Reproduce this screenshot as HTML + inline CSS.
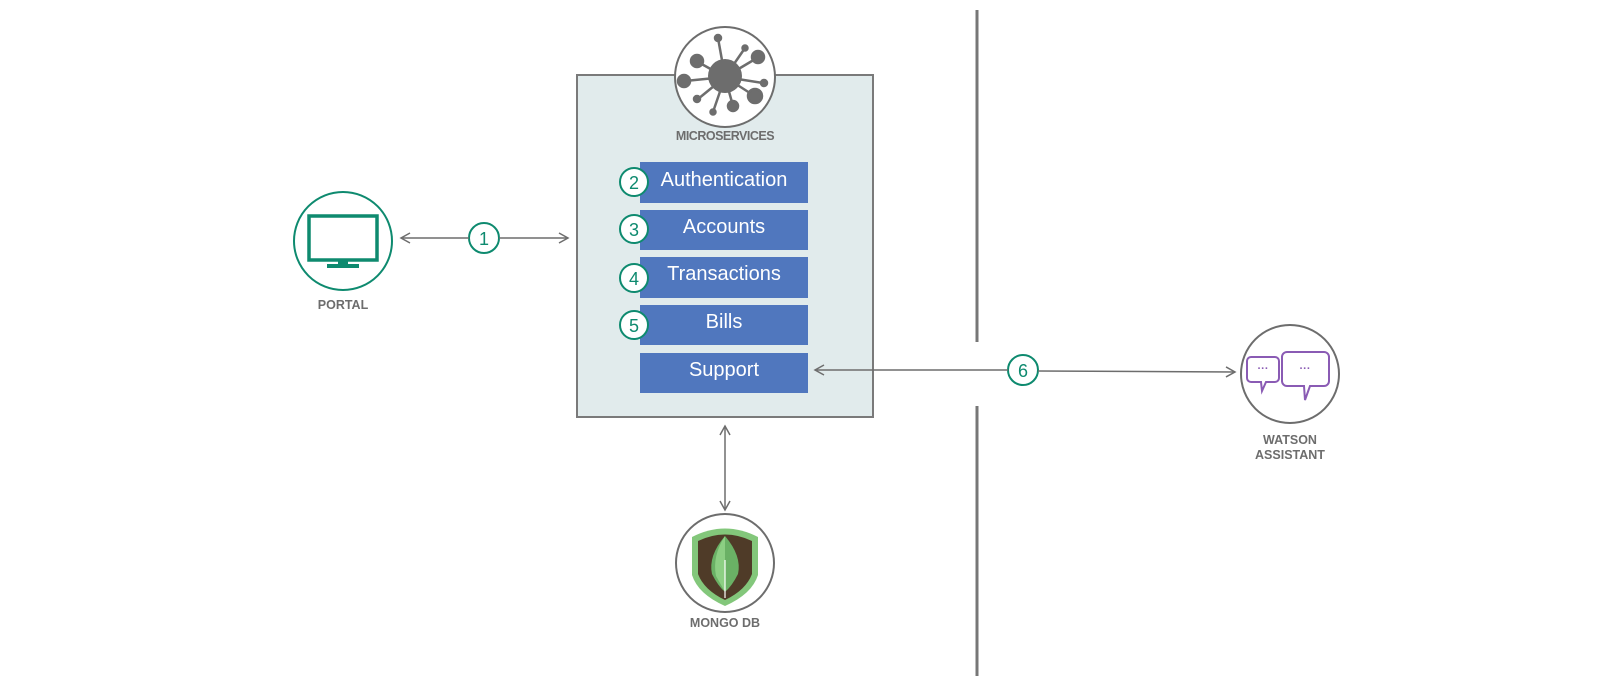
<!DOCTYPE html>
<html><head><style>
html,body{margin:0;padding:0;background:#fff;overflow:hidden;width:1601px;height:697px;}
svg{display:block;}
text{font-family:"Liberation Sans",sans-serif;}
</style></head><body>
<svg width="1601" height="697" viewBox="0 0 1601 697" xmlns="http://www.w3.org/2000/svg">
<defs>
<marker id="ah" markerWidth="12" markerHeight="12" refX="10" refY="6" orient="auto-start-reverse" markerUnits="userSpaceOnUse">
<path d="M1,1 L10,6 L1,11" fill="none" stroke="#6d6d6d" stroke-width="1.5"/>
</marker>
</defs>
<rect x="577" y="75" width="296" height="342" fill="#e1ebec" stroke="#7a7a7a" stroke-width="2"/>
<circle cx="725" cy="77" r="50" fill="#fff" stroke="#6d6d6d" stroke-width="2"/>
<g stroke="#6d6d6d" stroke-width="2.5" fill="#6d6d6d">
<line x1="725" y1="77" x2="718" y2="38"/><circle cx="718" cy="38" r="3"/>
<line x1="725" y1="77" x2="745" y2="48"/><circle cx="745" cy="48" r="2.5"/>
<line x1="725" y1="77" x2="757" y2="58"/><circle cx="758" cy="57" r="6"/>
<line x1="725" y1="77" x2="698" y2="62"/><circle cx="697" cy="61" r="6"/>
<line x1="725" y1="77" x2="685" y2="81"/><circle cx="684" cy="81" r="6"/>
<line x1="725" y1="77" x2="763" y2="83"/><circle cx="764" cy="83" r="3"/>
<line x1="725" y1="77" x2="753" y2="95"/><circle cx="755" cy="96" r="7"/>
<line x1="725" y1="77" x2="713" y2="112"/><circle cx="713" cy="112" r="2.5"/>
<line x1="725" y1="77" x2="698" y2="99"/><circle cx="697" cy="99" r="3"/>
<line x1="725" y1="77" x2="733" y2="106"/><circle cx="733" cy="106" r="5"/>
</g>
<circle cx="725" cy="76" r="17" fill="#6d6d6d"/>
<text x="725" y="140" font-size="12.5" font-weight="bold" fill="#6d6d6d" text-anchor="middle" letter-spacing="-0.5">MICROSERVICES</text>
<g fill="#5077be">
<rect x="640" y="162" width="168" height="41"/>
<rect x="640" y="210" width="168" height="40"/>
<rect x="640" y="257" width="168" height="41"/>
<rect x="640" y="305" width="168" height="40"/>
<rect x="640" y="353" width="168" height="40"/>
</g>
<g fill="#fff" font-size="20" text-anchor="middle">
<text x="724" y="186">Authentication</text>
<text x="724" y="233">Accounts</text>
<text x="724" y="280">Transactions</text>
<text x="724" y="328">Bills</text>
<text x="724" y="376">Support</text>
</g>
<g fill="#fff" stroke="#0e8a6f" stroke-width="2">
<circle cx="634" cy="182" r="14"/><circle cx="634" cy="229" r="14"/>
<circle cx="634" cy="278" r="14"/><circle cx="634" cy="325" r="14"/>
<circle cx="484" cy="238" r="15"/><circle cx="1023" cy="370" r="15"/>
</g>
<g fill="#0e8a6f" font-size="18" text-anchor="middle">
<text x="634" y="189">2</text><text x="634" y="236">3</text>
<text x="634" y="285">4</text><text x="634" y="332">5</text>
<text x="484" y="245">1</text><text x="1023" y="377">6</text>
</g>
<g stroke="#6d6d6d" stroke-width="1.5" fill="none">
<line x1="401" y1="238" x2="469" y2="238" marker-start="url(#ah)"/>
<line x1="499" y1="238" x2="568" y2="238" marker-end="url(#ah)"/>
<line x1="815" y1="370" x2="1008" y2="370" marker-start="url(#ah)"/>
<line x1="1038" y1="371" x2="1235" y2="372" marker-end="url(#ah)"/>
<line x1="725" y1="426" x2="725" y2="510" marker-start="url(#ah)" marker-end="url(#ah)"/>
</g>
<line x1="977" y1="10" x2="977" y2="342" stroke="#777" stroke-width="3"/>
<line x1="977" y1="406" x2="977" y2="676" stroke="#777" stroke-width="3"/>
<circle cx="343" cy="241" r="49" fill="#fff" stroke="#0e8a6f" stroke-width="2"/>
<rect x="309" y="216" width="68" height="44" fill="none" stroke="#0e8a6f" stroke-width="3.5"/>
<rect x="338" y="260" width="10" height="5" fill="#0e8a6f"/>
<rect x="327" y="264" width="32" height="4" fill="#0e8a6f"/>
<text x="343" y="309" font-size="12.5" font-weight="bold" fill="#6d6d6d" text-anchor="middle">PORTAL</text>
<circle cx="725" cy="563" r="49" fill="#fff" stroke="#6d6d6d" stroke-width="2"/>
<path d="M692,537 Q725,520 758,537 L758,575 Q752,594 725,606 Q698,594 692,575 Z" fill="#83c77b"/>
<path d="M698,541 Q725,528 752,541 L752,574 Q746,590 725,600 Q704,590 698,574 Z" fill="#4f3b28"/>
<path d="M725,536 Q742,556 738,574 Q732,586 725,592 Q718,586 712,574 Q708,556 725,536 Z" fill="#6ab165"/>
<path d="M725,536 Q712,556 716,576 L725,592 Z" fill="#8ccf83"/>
<line x1="725" y1="560" x2="725" y2="598" stroke="#fff" stroke-width="1.2"/>
<text x="725" y="627" font-size="12.5" font-weight="bold" fill="#6d6d6d" text-anchor="middle">MONGO DB</text>
<circle cx="1290" cy="374" r="49" fill="#fff" stroke="#6d6d6d" stroke-width="2"/>
<g fill="#fff" stroke="#8a5bb4" stroke-width="2">
<path d="M1251,357 h24 a4,4 0 0 1 4,4 v17 a4,4 0 0 1 -4,4 h-9 l-4,9 l-1,-9 h-10 a4,4 0 0 1 -4,-4 v-17 a4,4 0 0 1 4,-4 z"/>
<path d="M1287,352 h37 a5,5 0 0 1 5,5 v24 a5,5 0 0 1 -5,5 h-14 l-5,14 l-1,-14 h-17 a5,5 0 0 1 -5,-5 v-24 a5,5 0 0 1 5,-5 z"/>
</g>
<text x="1263" y="372" font-size="11" font-weight="bold" fill="#8a5bb4" text-anchor="middle">···</text>
<text x="1305" y="372" font-size="11" font-weight="bold" fill="#8a5bb4" text-anchor="middle">···</text>
<text x="1290" y="444" font-size="12.5" font-weight="bold" fill="#6d6d6d" text-anchor="middle">WATSON</text>
<text x="1290" y="459" font-size="12.5" font-weight="bold" fill="#6d6d6d" text-anchor="middle">ASSISTANT</text>
</svg>
</body></html>
